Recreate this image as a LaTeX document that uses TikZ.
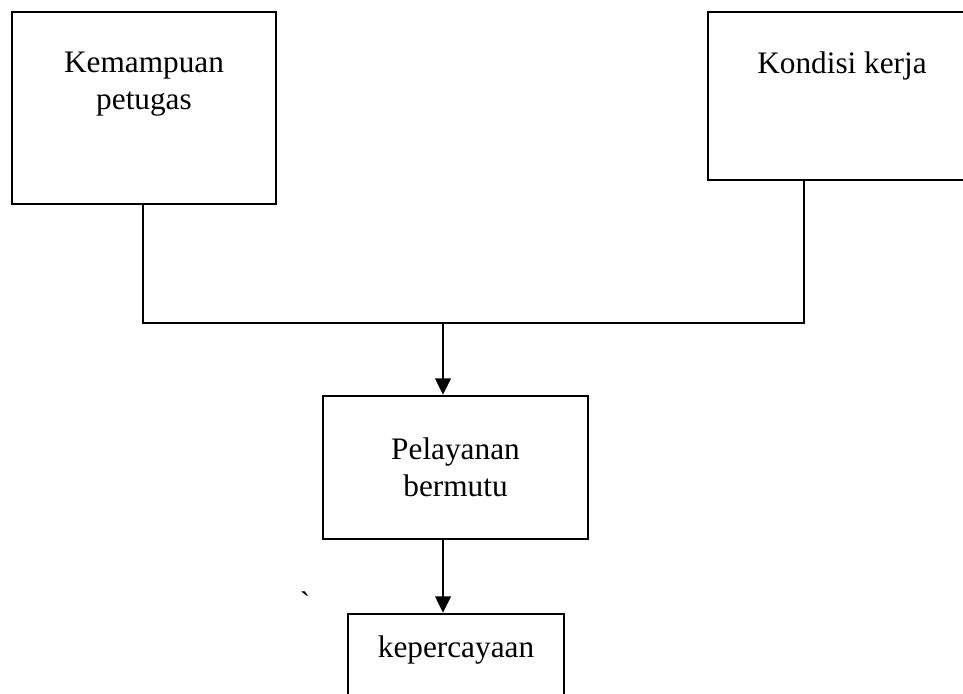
\documentclass[tikz,border=0pt]{standalone}
\usepackage{fontspec}
\setmainfont{Liberation Serif}
\usetikzlibrary{arrows.meta,positioning}

\begin{document}
\begin{tikzpicture}[x=.2mm,y=-.2mm,
  kotak/.style={draw,line width=1.4pt,inner sep=0pt},
  isi/.style={align=center,inner sep=0pt,font=\fontsize{17.8}{21}\selectfont},
  garis/.style={line width=1.4pt},
  panah/.style={line width=1.4pt,-{Triangle[length=3.3mm,width=3.1mm]}}]
\clip(0,0)rectangle(963,693);
\node[kotak,minimum width=52.8mm,minimum height=38.4mm,
  label={[isi,below=8.2mm]north:{Kemampuan\\petugas}}](kemampuan)at(144,108){};
\node[kotak,minimum width=53.6mm,minimum height=33.6mm,
  label={[isi,below=8.2mm]north:{Kondisi kerja}}](kondisi)at(842,96){};
\node[kotak,isi,minimum width=53mm,minimum height=28.6mm](pelayanan)at(455.5,467.5){Pelayanan\\bermutu};
\node[kotak,minimum width=43.2mm,minimum height=23.2mm,
  label={[isi,below=4.6mm]north:{kepercayaan}}](kepercayaan)at(456,672){};
\node[isi](tanda)at(305,603){\textasciigrave};
\coordinate(kiri)at(143,323);\coordinate(kanan)at(804,323);
\coordinate(tengah)at(443,323);
\draw[garis](kemampuan.south-|kiri)--(kiri)--(kanan)--(kanan|-kondisi.south);
\draw[panah](tengah)--(tengah|-pelayanan.north);
\draw[panah](pelayanan.south-|tengah)--(tengah|-kepercayaan.north);
\end{tikzpicture}
\end{document}
